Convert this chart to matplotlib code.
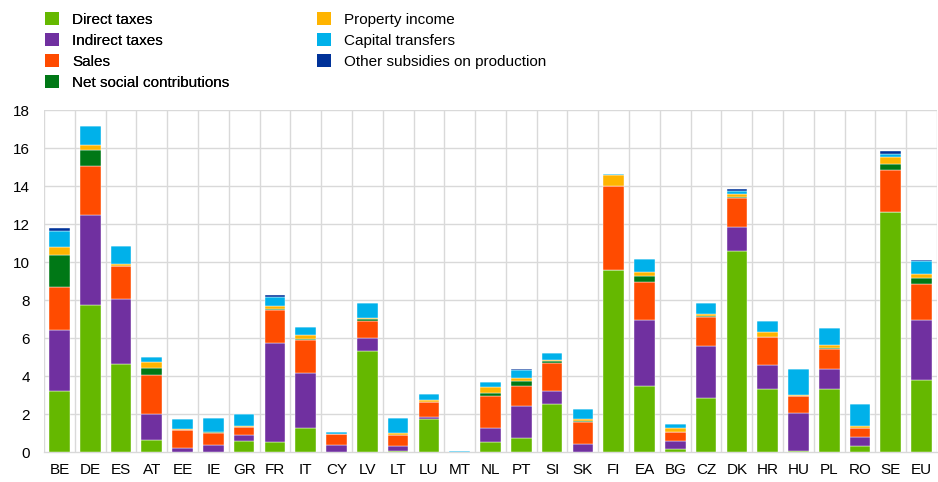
import numpy as np
import matplotlib.pyplot as plt
from matplotlib.patches import Patch

plt.rcParams["font.family"] = ["Liberation Sans", "DejaVu Sans"]

countries = ["BE", "DE", "ES", "AT", "EE", "IE", "GR", "FR", "IT", "CY",
             "LV", "LT", "LU", "MT", "NL", "PT", "SI", "SK", "FI", "EA",
             "BG", "CZ", "DK", "HR", "HU", "PL", "RO", "SE", "EU"]

direct_taxes = [3.21, 7.76, 4.63, 0.62, 0.02, 0.02, 0.56, 0.53, 1.26, 0.00,
                5.32, 0.05, 1.72, 0.00, 0.51, 0.74, 2.53, 0.02, 9.60, 3.46,
                0.14, 2.83, 10.56, 3.33, 0.05, 3.30, 0.30, 12.62, 3.79]
indirect_taxes = [3.19, 4.70, 3.44, 1.36, 0.21, 0.33, 0.35, 5.21, 2.92, 0.37,
                  0.68, 0.25, 0.11, 0.00, 0.77, 1.70, 0.70, 0.42, 0.00, 3.47,
                  0.44, 2.75, 1.28, 1.23, 2.00, 1.07, 0.47, 0.00, 3.14]
sales = [2.29, 2.58, 1.70, 2.06, 0.91, 0.65, 0.39, 1.72, 1.70, 0.56,
         0.92, 0.58, 0.80, 0.00, 1.67, 1.02, 1.47, 1.14, 4.42, 2.00,
         0.47, 1.53, 1.55, 1.49, 0.88, 1.05, 0.51, 2.24, 1.90]
net_social = [1.66, 0.84, 0.00, 0.38, 0.00, 0.07, 0.00, 0.07, 0.09, 0.00,
              0.06, 0.03, 0.00, 0.00, 0.16, 0.28, 0.09, 0.05, 0.00, 0.33,
              0.00, 0.03, 0.04, 0.00, 0.02, 0.05, 0.00, 0.30, 0.33]
property_income = [0.44, 0.26, 0.13, 0.32, 0.07, 0.00, 0.05, 0.14, 0.19, 0.00,
                   0.07, 0.11, 0.09, 0.00, 0.31, 0.18, 0.05, 0.13, 0.54, 0.20,
                   0.20, 0.14, 0.15, 0.25, 0.05, 0.16, 0.11, 0.37, 0.19]
capital_transfers = [0.84, 1.02, 0.96, 0.26, 0.53, 0.70, 0.67, 0.49, 0.40, 0.11,
                     0.81, 0.77, 0.35, 0.07, 0.26, 0.42, 0.39, 0.52, 0.06, 0.72,
                     0.24, 0.56, 0.14, 0.60, 1.36, 0.90, 1.16, 0.17, 0.72]
other_subsidies = [0.16, 0.00, 0.00, 0.00, 0.00, 0.00, 0.00, 0.12, 0.00, 0.00,
                   0.00, 0.00, 0.00, 0.00, 0.00, 0.05, 0.00, 0.00, 0.00, 0.00,
                   0.00, 0.00, 0.12, 0.00, 0.00, 0.00, 0.00, 0.14, 0.03]

series = [
    ("Direct taxes", direct_taxes, "#65b800"),
    ("Indirect taxes", indirect_taxes, "#7030a0"),
    ("Sales", sales, "#ff4b00"),
    ("Net social contributions", net_social, "#007816"),
    ("Property income", property_income, "#ffb400"),
    ("Capital transfers", capital_transfers, "#00b1ea"),
    ("Other subsidies on production", other_subsidies, "#003299"),
]

W, H = 938, 482
FS = 11

fig = plt.figure(figsize=(W / 100, H / 100), dpi=100)
ax = fig.add_axes([44 / W, 1 - 452 / H, (937 - 44) / W, (452 - 110) / H])

x = np.arange(len(countries))
bottom = np.zeros(len(countries))
for name, vals, color in series:
    vals = np.asarray(vals)
    ax.bar(x, vals, bottom=bottom, width=0.67, color=color,
           edgecolor="white", linewidth=0.3, zorder=3)
    bottom += vals

ax.set_xlim(-0.5, len(countries) - 0.5)
ax.set_ylim(0, 18)
ax.set_yticks(np.arange(0, 19, 2))
ax.set_xticks(x)
ax.set_xticklabels(countries)

# gridlines: horizontal at ticks, vertical between categories
for yv in np.arange(2, 19, 2):
    ax.axhline(yv, color="#d9d9d9", linewidth=1.0, zorder=1)
for xv in np.arange(-0.5, len(countries), 1.0):
    ax.axvline(xv, color="#d9d9d9", linewidth=1.0, zorder=1)

for side in ["top", "right", "left"]:
    ax.spines[side].set_visible(False)
ax.spines["bottom"].set_color("#d9d9d9")
ax.spines["bottom"].set_linewidth(1.0)
ax.tick_params(axis="both", length=0, labelsize=FS, colors="black")
ax.tick_params(axis="x", pad=8)
ax.tick_params(axis="y", pad=10)

# legend in two blocks placed like the reference
handles = [Patch(facecolor=c, edgecolor="none", label=n) for n, _, c in series]
leg_kw = dict(loc="upper left", frameon=False, fontsize=FS,
              handlelength=0.92, handleheight=0.92, handletextpad=0.85,
              labelspacing=0.42, borderpad=0, borderaxespad=0)
leg1 = fig.legend(handles=handles[:4], bbox_to_anchor=(45 / W, 1 - 12 / H), **leg_kw)
fig.add_artist(leg1)
fig.legend(handles=handles[4:], bbox_to_anchor=(317 / W, 1 - 12 / H), **leg_kw)

fig.savefig("out.png", dpi=100)
